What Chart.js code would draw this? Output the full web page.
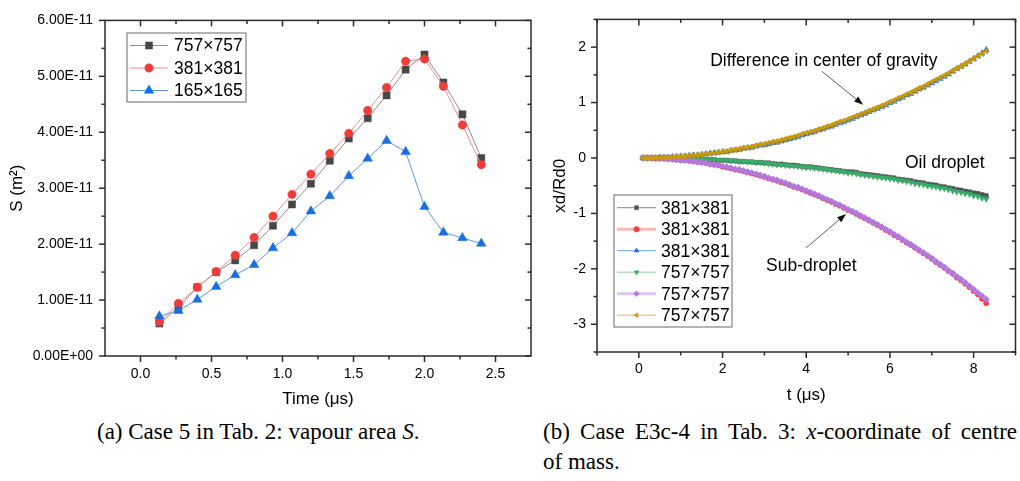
<!DOCTYPE html>
<html><head><meta charset="utf-8">
<script src="https://cdn.jsdelivr.net/npm/chart.js@4.4.0/dist/chart.umd.min.js"></script>
<style>
html,body{margin:0;padding:0;background:#fff;width:1020px;height:481px;overflow:hidden;}
#ca{position:absolute;left:0;top:0;}
#cb{position:absolute;left:540px;top:0;}
.cap{position:absolute;font-family:"Liberation Serif","Times New Roman",serif;font-size:23px;color:#000;line-height:30px;white-space:nowrap;}
</style></head><body>
<canvas id="ca" width="540" height="410"></canvas>
<canvas id="cb" width="480" height="410"></canvas>
<div class="cap" style="left:97px;top:417px;">(a) Case 5 in Tab. 2: vapour area <i>S</i>.</div>
<div class="cap" style="left:543px;top:417px;width:474px;text-align:justify;text-align-last:justify;">(b) Case E3c-4 in Tab. 3: <i>x</i>-coordinate of centre</div>
<div class="cap" style="left:543px;top:447px;">of mass.</div>
<script>
// ---------- Chart (a): vapour area S ----------
const timeA = [0.133,0.267,0.4,0.533,0.667,0.8,0.933,1.067,1.2,1.333,1.467,1.6,1.733,1.867,2.0,2.133,2.267,2.4];
const s757 = [0.58e-11,0.87e-11,1.23e-11,1.50e-11,1.71e-11,1.98e-11,2.33e-11,2.71e-11,3.08e-11,3.49e-11,3.89e-11,4.25e-11,4.66e-11,5.12e-11,5.39e-11,4.89e-11,4.32e-11,3.54e-11];
const s381 = [0.61e-11,0.94e-11,1.23e-11,1.51e-11,1.80e-11,2.12e-11,2.50e-11,2.89e-11,3.25e-11,3.62e-11,3.98e-11,4.39e-11,4.80e-11,5.27e-11,5.31e-11,4.82e-11,4.13e-11,3.42e-11];
const s165 = [0.71e-11,0.81e-11,1.01e-11,1.24e-11,1.45e-11,1.63e-11,1.93e-11,2.20e-11,2.59e-11,2.86e-11,3.22e-11,3.53e-11,3.85e-11,3.65e-11,2.67e-11,2.21e-11,2.11e-11,2.01e-11];
const labelsA = ['757×757','381×381','165×165'];
const xTicksA = [0,0.5,1.0,1.5,2.0,2.5];
const xMinorA = [0.25,0.75,1.25,1.75,2.25];
const yTicksA = [0,1e-11,2e-11,3e-11,4e-11,5e-11,6e-11];
const yMinorA = [0.5e-11,1.5e-11,2.5e-11,3.5e-11,4.5e-11,5.5e-11];

// ---------- Chart (b): x-coordinate of centre of mass ----------
const timeB = [0.1,0.2,0.3,0.4,0.5,0.6,0.7,0.8,0.9,1.0,1.1,1.2,1.3,1.4,1.5,1.6,1.7,1.8,1.9,2.0,2.1,2.2,2.3,2.4,2.5,2.6,2.7,2.8,2.9,3.0,3.1,3.2,3.3,3.4,3.5,3.6,3.7,3.8,3.9,4.0,4.1,4.2,4.3,4.4,4.5,4.6,4.7,4.8,4.9,5.0,5.1,5.2,5.3,5.4,5.5,5.6,5.7,5.8,5.9,6.0,6.1,6.2,6.3,6.4,6.5,6.6,6.7,6.8,6.9,7.0,7.1,7.2,7.3,7.4,7.5,7.6,7.7,7.8,7.9,8.0,8.1,8.2,8.3];
const oil381 = [0,0,0,0,0,0,0,-0.01,-0.01,-0.01,
-0.01,-0.01,-0.02,-0.02,-0.02,-0.03,-0.03,-0.03,-0.04,-0.04,
-0.04,-0.05,-0.05,-0.06,-0.06,-0.07,-0.07,-0.08,-0.08,-0.09,
-0.09,-0.10,-0.11,-0.11,-0.12,-0.13,-0.13,-0.14,-0.15,-0.16,
-0.16,-0.17,-0.18,-0.19,-0.20,-0.21,-0.22,-0.23,-0.24,-0.25,
-0.25,-0.26,-0.28,-0.29,-0.30,-0.31,-0.32,-0.33,-0.34,-0.35,
-0.36,-0.38,-0.39,-0.40,-0.41,-0.43,-0.44,-0.45,-0.47,-0.48,
-0.49,-0.51,-0.52,-0.54,-0.55,-0.57,-0.58,-0.60,-0.61,-0.63,
-0.64,-0.66,-0.68];
const sub381 = [0,0,0,-0.01,-0.01,-0.01,-0.02,-0.02,-0.03,-0.04,
-0.04,-0.05,-0.06,-0.07,-0.08,-0.09,-0.11,-0.12,-0.13,-0.16,
-0.17,-0.19,-0.21,-0.22,-0.24,-0.26,-0.28,-0.30,-0.32,-0.34,
-0.37,-0.39,-0.41,-0.44,-0.46,-0.49,-0.52,-0.54,-0.57,-0.60,
-0.63,-0.66,-0.69,-0.73,-0.76,-0.79,-0.83,-0.86,-0.90,-0.94,
-0.97,-1.01,-1.05,-1.09,-1.13,-1.17,-1.21,-1.25,-1.30,-1.34,
-1.39,-1.43,-1.48,-1.53,-1.57,-1.62,-1.67,-1.72,-1.77,-1.82,
-1.88,-1.93,-1.98,-2.04,-2.09,-2.16,-2.21,-2.27,-2.33,-2.40,
-2.46,-2.54,-2.62];
const diff381 = [0,0,0,0,0.01,0.01,0.01,0.02,0.02,0.03,
0.03,0.04,0.05,0.05,0.06,0.07,0.08,0.09,0.10,0.11,
0.11,0.13,0.14,0.15,0.17,0.18,0.19,0.21,0.23,0.23,
0.25,0.27,0.28,0.30,0.32,0.34,0.36,0.38,0.41,0.43,
0.45,0.47,0.50,0.52,0.55,0.57,0.60,0.63,0.65,0.68,
0.71,0.74,0.77,0.80,0.83,0.86,0.89,0.92,0.95,0.99,
1.02,1.06,1.09,1.13,1.16,1.20,1.24,1.27,1.31,1.35,
1.39,1.43,1.47,1.51,1.56,1.61,1.65,1.69,1.74,1.79,
1.84,1.89,1.95];
const oil757 = [0,0,0,0,0,0,0,-0.01,-0.01,-0.01,
-0.01,-0.01,-0.02,-0.02,-0.02,-0.03,-0.03,-0.03,-0.04,-0.04,
-0.04,-0.05,-0.05,-0.06,-0.06,-0.07,-0.07,-0.08,-0.08,-0.09,
-0.10,-0.11,-0.12,-0.12,-0.13,-0.14,-0.14,-0.15,-0.16,-0.17,
-0.17,-0.18,-0.19,-0.20,-0.21,-0.22,-0.23,-0.24,-0.25,-0.27,
-0.27,-0.28,-0.30,-0.31,-0.32,-0.33,-0.34,-0.35,-0.36,-0.37,
-0.38,-0.40,-0.41,-0.42,-0.44,-0.46,-0.47,-0.48,-0.50,-0.51,
-0.52,-0.54,-0.55,-0.57,-0.59,-0.61,-0.62,-0.64,-0.65,-0.68,
-0.69,-0.72,-0.74];
const sub757 = [0,0,0,-0.01,-0.01,-0.01,-0.02,-0.02,-0.03,-0.04,
-0.04,-0.05,-0.06,-0.07,-0.08,-0.09,-0.11,-0.12,-0.13,-0.15,
-0.16,-0.18,-0.20,-0.21,-0.23,-0.25,-0.27,-0.29,-0.31,-0.33,
-0.36,-0.38,-0.40,-0.43,-0.45,-0.48,-0.51,-0.53,-0.56,-0.59,
-0.62,-0.65,-0.68,-0.72,-0.75,-0.78,-0.82,-0.85,-0.89,-0.93,
-0.96,-1.00,-1.04,-1.08,-1.12,-1.16,-1.20,-1.24,-1.29,-1.33,
-1.38,-1.42,-1.47,-1.52,-1.56,-1.61,-1.66,-1.71,-1.76,-1.81,
-1.87,-1.92,-1.97,-2.03,-2.08,-2.14,-2.19,-2.25,-2.31,-2.37,
-2.43,-2.49,-2.55];
const diff757 = [0,0,0,0,0.01,0.01,0.01,0.02,0.02,0.03,
0.03,0.04,0.05,0.05,0.06,0.07,0.08,0.09,0.10,0.11,
0.12,0.14,0.15,0.16,0.18,0.19,0.20,0.22,0.24,0.25,
0.27,0.29,0.30,0.32,0.34,0.36,0.38,0.40,0.43,0.45,
0.47,0.49,0.52,0.54,0.57,0.59,0.62,0.65,0.67,0.70,
0.73,0.76,0.79,0.82,0.85,0.88,0.91,0.94,0.97,1.01,
1.04,1.08,1.11,1.15,1.18,1.22,1.26,1.29,1.33,1.37,
1.41,1.45,1.49,1.53,1.58,1.62,1.66,1.70,1.75,1.79,
1.84,1.88,1.93];
const labelsB = ['381×381','381×381','381×381','757×757','757×757','757×757'];
const xTicksB = [0,2,4,6,8];
const xMinorB = [-1,1,3,5,7,9];
const yTicksB = [-3,-2,-1,0,1,2];
const yMinorB = [-3.5,-2.5,-1.5,-0.5,0.5,1.5,2.5];
const notesB = ['Difference in center of gravity','Oil droplet','Sub-droplet'];

const FONT = "'Liberation Sans', Arial, sans-serif";
Chart.defaults.font.family = FONT;
Chart.defaults.color = '#000';

function pts(xs, ys){ return xs.map((x,i)=>({x:x, y:ys[i]})); }

// frame + tick marks (major/minor; outward on bottom/left, inward on top/right)
const frameTicks = {
  id:'frameTicks',
  afterDatasetsDraw(chart, args, o){
    const ctx = chart.ctx, a = chart.chartArea, sx = chart.scales.x, sy = chart.scales.y;
    ctx.save();
    ctx.strokeStyle = '#2b2b2b'; ctx.lineWidth = 1.5; ctx.lineCap='butt';
    const seg=(x1,y1,x2,y2)=>{ctx.beginPath();ctx.moveTo(x1,y1);ctx.lineTo(x2,y2);ctx.stroke();};
    const xt=(vals,len)=>vals.forEach(v=>{const p=sx.getPixelForValue(v); seg(p,a.bottom,p,a.bottom+len); seg(p,a.top,p,a.top+len);});
    const yt=(vals,len)=>vals.forEach(v=>{const p=sy.getPixelForValue(v); seg(a.left-len,p,a.left,p); seg(a.right-len,p,a.right,p);});
    xt(o.xMajor,6); xt(o.xMinor,3.5); yt(o.yMajor,6); yt(o.yMinor,3.5);
    ctx.strokeRect(a.left,a.top,a.right-a.left,a.bottom-a.top);
    ctx.restore();
  }
};

// boxed legend inside the plot
const boxLegend = {
  id:'boxLegend',
  afterDraw(chart, args, o){
    const ctx = chart.ctx;
    ctx.save();
    ctx.fillStyle='#fff'; ctx.fillRect(o.x,o.y,o.w,o.h);
    ctx.strokeStyle='#8c8c8c'; ctx.lineWidth=1.3; ctx.strokeRect(o.x,o.y,o.w,o.h);
    chart.data.datasets.forEach((ds,i)=>{
      const cy = o.y0 + i*o.rowH;
      ctx.strokeStyle = ds.borderColor; ctx.lineWidth = ds.borderWidth;
      ctx.beginPath(); ctx.moveTo(o.lx1,cy); ctx.lineTo(o.lx2,cy); ctx.stroke();
      ctx.fillStyle = ds.pointBackgroundColor; ctx.strokeStyle = ds.pointBorderColor; ctx.lineWidth = 0.5;
      Chart.helpers.drawPoint(ctx, {pointStyle: ds.pointStyle, rotation: ds.pointRotation||0, radius: o.r || ds.pointRadius, borderWidth: 0.5}, (o.lx1+o.lx2)/2, cy);
      ctx.fillStyle='#000'; ctx.font = o.font; ctx.textBaseline='middle'; ctx.textAlign='left';
      ctx.fillText(ds.label, o.tx, cy+1);
    });
    ctx.restore();
  }
};

// text notes and arrows (chart b)
const notes = {
  id:'notes',
  afterDatasetsDraw(chart, args, o){
    if(!o.items) return;
    const ctx = chart.ctx, sx = chart.scales.x, sy = chart.scales.y;
    ctx.save();
    ctx.font = o.font; ctx.fillStyle='#000'; ctx.textAlign='center'; ctx.textBaseline='middle';
    o.items.forEach(it=>ctx.fillText(it.text, sx.getPixelForValue(it.x), sy.getPixelForValue(it.y)));
    o.arrows.forEach(ar=>{
      const x1=sx.getPixelForValue(ar[0]), y1=sy.getPixelForValue(ar[1]), x2=sx.getPixelForValue(ar[2]), y2=sy.getPixelForValue(ar[3]);
      const ang=Math.atan2(y2-y1,x2-x1), L=9, W=3.2;
      const bx=x2-L*Math.cos(ang), by=y2-L*Math.sin(ang);
      ctx.strokeStyle='#333'; ctx.lineWidth=0.8;
      ctx.beginPath(); ctx.moveTo(x1,y1); ctx.lineTo(bx,by); ctx.stroke();
      ctx.fillStyle='#111';
      ctx.beginPath(); ctx.moveTo(x2,y2);
      ctx.lineTo(bx+W*Math.sin(ang), by-W*Math.cos(ang));
      ctx.lineTo(bx-W*Math.sin(ang), by+W*Math.cos(ang));
      ctx.closePath(); ctx.fill();
    });
    ctx.restore();
  }
};

function sciLabel(v){
  if (Math.abs(v) < 1e-20) return '0.00E+00';
  return v.toExponential(2).toUpperCase();
}

function makeAxes(cfg){
  return {
    x: {type:'linear', min:cfg.xmin, max:cfg.xmax,
        afterBuildTicks: s=>{ s.ticks = cfg.xTicks.map(v=>({value:v})); },
        afterFit: s=>{ s.height = cfg.xh; },
        grid:{display:false, drawTicks:false}, border:{display:false},
        ticks:{autoSkip:false, maxRotation:0, padding:cfg.xpad, font:{size:14, family:FONT}, color:'#000', callback:cfg.xfmt},
        title:{display:true, text:cfg.xtitle, font:{size:17, family:FONT}, color:'#000', padding:{top:0,bottom:cfg.xtpad}}},
    y: {type:'linear', min:cfg.ymin, max:cfg.ymax,
        afterBuildTicks: s=>{ s.ticks = cfg.yTicks.map(v=>({value:v})); },
        afterFit: s=>{ s.width = cfg.yw; },
        grid:{display:false, drawTicks:false}, border:{display:false},
        ticks:{autoSkip:false, padding:cfg.ypad, font:{size:14, family:FONT}, color:'#000', callback:cfg.yfmt},
        title:{display:true, text:cfg.ytitle, font:{size:17, family:FONT}, color:'#000', padding:{top:cfg.ytpad,bottom:0}}}
  };
}

function ds(label, xs, ys, marker, line, lw, style, r, rot, order){
  return {label:label, data:pts(xs,ys), borderColor:line, borderWidth:lw, backgroundColor:marker,
    pointBackgroundColor:marker, pointBorderColor:marker, pointBorderWidth:0.5,
    pointStyle:style, pointRadius:r, pointRotation:rot, order:order, tension:0, showLine:true};
}

// ----- chart a -----
new Chart(document.getElementById('ca'), {
  type:'line',
  data:{datasets:[
    ds(labelsA[0], timeA, s757, '#474747', '#8f8f8f', 1, 'rect', 5, 0, 3),
    ds(labelsA[1], timeA, s381, '#F03B3B', '#f58a8a', 1, 'circle', 4.2, 0, 2),
    ds(labelsA[2], timeA, s165, '#1A6FDF', '#5c98ea', 1, 'triangle', 5.5, 0, 1)
  ]},
  options:{
    responsive:false, animation:false, devicePixelRatio:1,
    layout:{padding:{left:0, top:14, right:9, bottom:0}},
    plugins:{legend:{display:false}, tooltip:{enabled:false},
      frameTicks:{xMajor:xTicksA, xMinor:xMinorA, yMajor:yTicksA, yMinor:yMinorA},
      boxLegend:{x:127, y:33, w:119, h:69, y0:45.5, rowH:22.5, lx1:130, lx2:168, tx:174, font:"17.5px "+FONT}},
    scales: makeAxes({xmin:-0.25, xmax:2.75, xTicks:xTicksA, xh:54, xpad:10, xtpad:0, xtitle:'Time (μs)', xfmt:v=>v.toFixed(1),
      ymin:0, ymax:6e-11, yTicks:yTicksA, yw:105, ypad:12, ytpad:7, ytitle:'S (m²)', yfmt:sciLabel})
  },
  plugins:[frameTicks, boxLegend]
});

// ----- chart b -----
new Chart(document.getElementById('cb'), {
  type:'line',
  data:{datasets:[
    ds(labelsB[0], timeB, oil381,  '#515151', '#8a8a8a', 1, 'rect', 3, 0, 6),
    ds(labelsB[1], timeB, sub381,  '#F14040', '#f8b8b8', 3, 'circle', 2.6, 0, 5),
    ds(labelsB[2], timeB, diff381, '#1A6FDF', '#6aa2ee', 1, 'triangle', 3.5, 0, 4),
    ds(labelsB[3], timeB, oil757,  '#37AD6B', '#8fd3ab', 1, 'triangle', 3.5, 180, 3),
    ds(labelsB[4], timeB, sub757,  '#B177DE', '#dcc6f2', 3, 'rectRot', 3.3, 0, 2),
    ds(labelsB[5], timeB, diff757, '#CC9900', '#dcbb5a', 1, 'triangle', 3.5, -90, 1)
  ]},
  options:{
    responsive:false, animation:false, devicePixelRatio:1,
    layout:{padding:{left:0, top:14, right:4.3, bottom:0}},
    plugins:{legend:{display:false}, tooltip:{enabled:false},
      frameTicks:{xMajor:xTicksB, xMinor:xMinorB, yMajor:yTicksB, yMinor:yMinorB},
      boxLegend:{x:74, y:195, w:118, h:132, y0:207.7, rowH:21.5, lx1:77, lx2:116, tx:121, r:2.8, font:"17.5px "+FONT},
      notes:{font:"17.5px "+FONT,
        items:[{text:notesB[0], x:4.42, y:1.74},{text:notesB[1], x:7.31, y:-0.09},{text:notesB[2], x:4.12, y:-1.95}],
        arrows:[[4.38,1.56,5.36,0.96],[4.0,-1.62,4.95,-1.01]]}},
    scales: makeAxes({xmin:-1, xmax:9, xTicks:xTicksB, xh:58, xpad:9, xtpad:4, xtitle:'t (μs)', xfmt:v=>String(v),
      ymin:-3.5, ymax:2.5, yTicks:yTicksB, yw:57, ypad:11, ytpad:10, ytitle:'xd/Rd0', yfmt:v=>String(v)})
  },
  plugins:[frameTicks, notes, boxLegend]
});
</script>
</body></html>
